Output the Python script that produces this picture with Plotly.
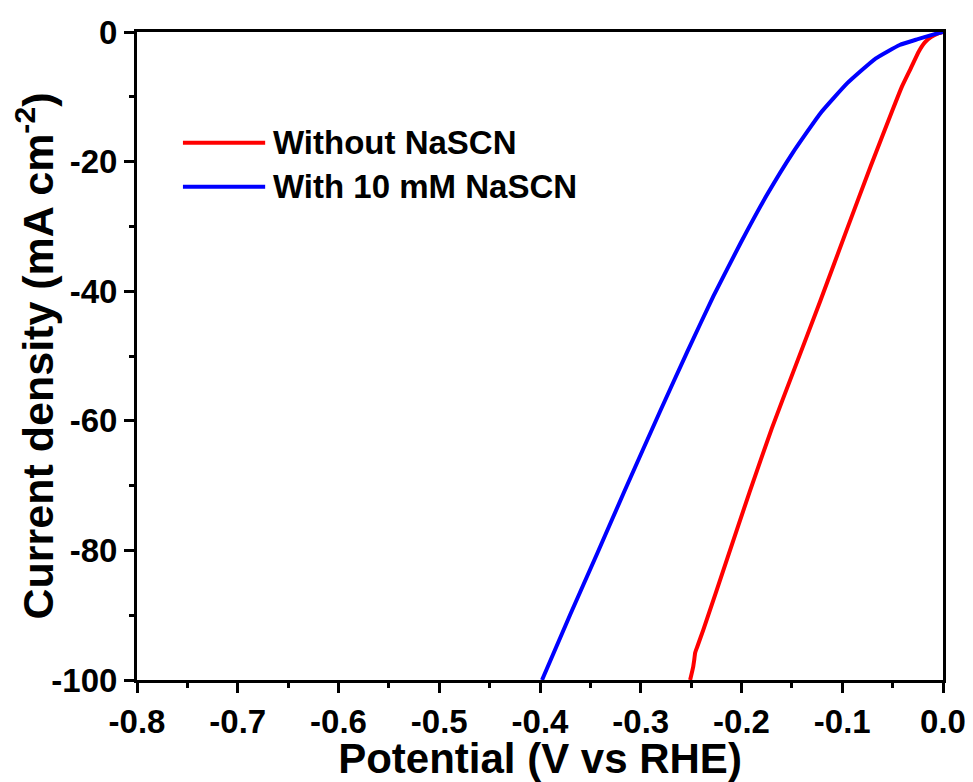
import plotly.graph_objects as go

# ---- data ----
pot_without = [0.000, -0.006, -0.012, -0.018, -0.024, -0.032, -0.041, -0.050, -0.072, -0.095,
               -0.122, -0.149, -0.170, -0.192, -0.214, -0.238, -0.244, -0.246, -0.247, -0.248,
               -0.251]
cur_without = [0.0, -0.3, -0.8, -1.6, -3.0, -5.6, -8.5, -12.0, -20.8, -30.3,
               -41.6, -52.6, -61.2, -71.0, -81.2, -92.3, -94.9, -95.8, -97.0, -98.0,
               -100.0]

pot_with = [0.000, -0.010, -0.025, -0.043, -0.067, -0.095, -0.122, -0.149, -0.175, -0.201,
            -0.228, -0.254, -0.281, -0.316, -0.343, -0.370, -0.398]
cur_with = [0.0, -0.4, -1.1, -2.0, -4.1, -7.9, -12.6, -18.6, -25.2, -32.6,
            -40.8, -49.4, -58.6, -70.8, -80.4, -89.9, -100.0]

series_names = ["Without NaSCN", "With 10 mM NaSCN"]
series_colors = ["#ff0000", "#0000ff"]

x_tickvals = [-0.8, -0.7, -0.6, -0.5, -0.4, -0.3, -0.2, -0.1, 0.0]
x_ticktext = ["-0.8", "-0.7", "-0.6", "-0.5", "-0.4", "-0.3", "-0.2", "-0.1", "0.0"]
y_tickvals = [0, -20, -40, -60, -80, -100]
y_ticktext = ["0", "-20", "-40", "-60", "-80", "-100"]

FONT = "Liberation Sans, Arial, sans-serif"

fig = go.Figure()
for xs, ys, name, col in [(pot_without, cur_without, series_names[0], series_colors[0]),
                          (pot_with, cur_with, series_names[1], series_colors[1])]:
    fig.add_trace(go.Scatter(x=xs, y=ys, mode="lines", name=name,
                             line=dict(color=col, width=4, shape="spline", smoothing=0.4),
                             showlegend=False))

# custom legend (long line samples as in the reference)
leg_y = [0.829, 0.761]
for i, (name, col) in enumerate(zip(series_names, series_colors)):
    fig.add_shape(type="line", xref="paper", yref="paper",
                  x0=0.057, x1=0.159, y0=leg_y[i], y1=leg_y[i],
                  line=dict(color=col, width=4))
    fig.add_annotation(xref="paper", yref="paper", x=0.166, y=leg_y[i],
                       xanchor="left", yanchor="middle", showarrow=False,
                       text=name, font=dict(family=FONT, size=33, color="black", weight="bold"))

axis_common = dict(showgrid=False, zeroline=False, showline=True, linecolor="black",
                   linewidth=3, mirror=True, ticks="outside", ticklen=10, tickwidth=3,
                   tickcolor="black", automargin=False,
                   tickfont=dict(family=FONT, size=33, color="black", weight="bold"))

fig.update_xaxes(range=[-0.8, 0.0], tickvals=x_tickvals, ticktext=x_ticktext,
                 minor=dict(ticks="outside", ticklen=5, tickwidth=3, tickcolor="black", dtick=0.05,
                            tick0=0, showgrid=False),
                 title=dict(text="Potential (V vs RHE)", standoff=0,
                            font=dict(family=FONT, size=42, color="black", weight="bold")),
                 **axis_common)
fig.update_yaxes(range=[-100, 0], tickvals=y_tickvals, ticktext=y_ticktext,
                 minor=dict(ticks="outside", ticklen=5, tickwidth=3, tickcolor="black", dtick=10,
                            tick0=0, showgrid=False),
                 title=dict(text="Current density (mA cm<sup>-2</sup>)", standoff=2,
                            font=dict(family=FONT, size=43, color="black", weight="bold")),
                 **axis_common)

# the page body adds an 8px offset; size/margins compensate for it
fig.update_layout(width=965, height=774, margin=dict(l=129, r=30, t=24, b=102),
                  plot_bgcolor="white", paper_bgcolor="white", showlegend=False)

fig.write_html("out.html")
